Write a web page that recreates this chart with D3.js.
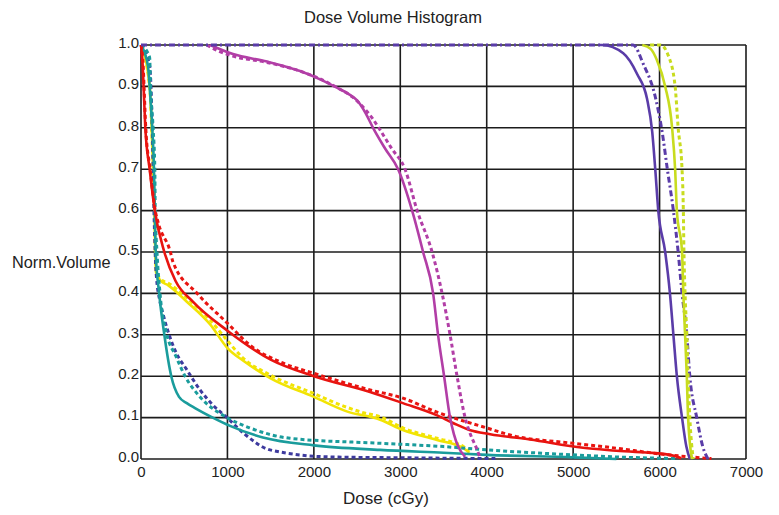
<!DOCTYPE html>
<html>
<head>
<meta charset="utf-8">
<script src="https://cdn.jsdelivr.net/npm/d3@7"></script>
<style>
  html, body { margin: 0; padding: 0; background: #fff; }
  svg { display: block; font-family: "Liberation Sans", Arial, sans-serif; }
</style>
</head>
<body>
<svg id="chart" width="779" height="515"></svg>
<script>
// ---- data ----
const title = "Dose Volume Histogram";
const xLabel = "Dose (cGy)";
const yLabel = "Norm.Volume";
const xTicks = [0, 1000, 2000, 3000, 4000, 5000, 6000, 7000];
const yTicks = [0.0, 0.1, 0.2, 0.3, 0.4, 0.5, 0.6, 0.7, 0.8, 0.9, 1.0];

// red structure
const redSolidDose = [0, 20, 30, 50, 100, 160, 270, 400, 600, 1000, 1500, 2000, 2650, 3030, 3420, 3610, 3800, 4040, 4500, 5115, 5500, 6120, 6250];
const redSolidVol  = [1.0, 0.95, 0.9, 0.8, 0.7, 0.6, 0.5, 0.43, 0.38, 0.31, 0.24, 0.2, 0.162, 0.135, 0.106, 0.087, 0.07, 0.06, 0.047, 0.027, 0.02, 0.01, 0.002];
const redDotDose = [0, 25, 35, 55, 105, 165, 200, 340, 370, 650, 1000, 1260, 1640, 2000, 2650, 3030, 3425, 4000, 4270, 5000, 5350, 6100, 6600];
const redDotVol  = [1.0, 0.95, 0.9, 0.8, 0.7, 0.6, 0.57, 0.5, 0.476, 0.4, 0.328, 0.275, 0.232, 0.207, 0.167, 0.147, 0.113, 0.075, 0.058, 0.038, 0.03, 0.01, 0.001];

// yellow structure
const yellowSolidDose = [0, 100, 140, 155, 165, 175, 230, 312, 530, 800, 1000, 1200, 1500, 2000, 2380, 2766, 3030, 3425, 3730, 3800];
const yellowSolidVol  = [1.0, 0.9, 0.7, 0.6, 0.5, 0.45, 0.43, 0.42, 0.38, 0.325, 0.268, 0.235, 0.195, 0.15, 0.115, 0.095, 0.07, 0.046, 0.026, 0.015];
const yellowDotDose = [0, 100, 140, 155, 165, 180, 240, 312, 532, 798, 995, 1180, 1493, 1990, 2380, 2570, 2766, 3030, 3425, 3730, 3800];
const yellowDotVol  = [1.0, 0.9, 0.7, 0.6, 0.5, 0.45, 0.432, 0.425, 0.389, 0.336, 0.287, 0.244, 0.203, 0.159, 0.125, 0.112, 0.102, 0.075, 0.05, 0.03, 0.02];

// teal structure
const tealSolidDose = [0, 80, 100, 130, 150, 160, 170, 210, 270, 350, 440, 530, 625, 830, 1030, 1410, 2000, 2766, 3500, 4000, 5000, 5500];
const tealSolidVol  = [1.0, 0.95, 0.9, 0.8, 0.7, 0.6, 0.5, 0.4, 0.3, 0.2, 0.15, 0.135, 0.123, 0.1, 0.08, 0.052, 0.033, 0.022, 0.015, 0.01, 0.004, 0.0];
const tealDotDose = [0, 100, 110, 140, 160, 165, 185, 220, 300, 400, 510, 683, 995, 1260, 1725, 2766, 3500, 4000, 5000, 5500, 6200];
const tealDotVol  = [1.0, 0.97, 0.9, 0.8, 0.7, 0.6, 0.5, 0.4, 0.3, 0.25, 0.2, 0.15, 0.1, 0.075, 0.05, 0.038, 0.03, 0.022, 0.01, 0.005, 0.001];

// navy structure (dotted)
const navyDotDose = [0, 100, 130, 150, 175, 220, 255, 393, 532, 683, 833, 995, 1200, 1493, 2187, 3000, 4100];
const navyDotVol  = [1.0, 0.95, 0.8, 0.6, 0.45, 0.38, 0.35, 0.263, 0.215, 0.167, 0.13, 0.1, 0.06, 0.022, 0.005, 0.003, 0.001];

// magenta structure
const magentaSolidDose = [800, 1064, 1458, 1840, 2072, 2303, 2400, 2500, 2600, 2685, 2824, 2975, 3137, 3264, 3380, 3437, 3507, 3576, 3620, 3670, 3750];
const magentaSolidVol  = [1.0, 0.978, 0.96, 0.937, 0.917, 0.893, 0.882, 0.866, 0.835, 0.8, 0.75, 0.7, 0.6, 0.5, 0.4, 0.3, 0.2, 0.1, 0.06, 0.03, 0.005];
const magentaDotDose = [760, 900, 1064, 1458, 1840, 2072, 2303, 2450, 2569, 2680, 2750, 2900, 3055, 3195, 3368, 3484, 3576, 3657, 3750, 3830, 3866, 3920];
const magentaDotVol  = [1.0, 0.985, 0.973, 0.958, 0.937, 0.918, 0.893, 0.874, 0.85, 0.822, 0.8, 0.75, 0.7, 0.6, 0.5, 0.4, 0.3, 0.2, 0.1, 0.05, 0.034, 0.005];

// purple structure
const purpleSolidDose = [5300, 5335, 5580, 5740, 5855, 5915, 5950, 5985, 6065, 6120, 6160, 6200, 6260, 6310, 6350];
const purpleSolidVol  = [1.0, 1.0, 0.98, 0.93, 0.87, 0.79, 0.7, 0.6, 0.5, 0.4, 0.3, 0.2, 0.1, 0.03, 0.0];
const purpleDotDose = [0, 5694, 5810, 5950, 6030, 6090, 6160, 6215, 6260, 6315, 6350, 6430, 6500, 6560];
const purpleDotVol  = [1.0, 1.0, 0.955, 0.875, 0.79, 0.7, 0.6, 0.5, 0.4, 0.3, 0.2, 0.1, 0.03, 0.0];

// yellow-green structure
const limeSolidDose = [5800, 5900, 5970, 6065, 6145, 6180, 6200, 6260, 6275, 6295, 6315, 6330, 6375];
const limeSolidVol  = [1.0, 0.99, 0.963, 0.9, 0.8, 0.7, 0.6, 0.5, 0.4, 0.3, 0.2, 0.1, 0.0];
const limeDotDose = [5890, 6010, 6100, 6180, 6215, 6260, 6275, 6282, 6295, 6315, 6330, 6350, 6390];
const limeDotVol  = [1.0, 1.0, 0.975, 0.9, 0.8, 0.7, 0.6, 0.5, 0.4, 0.3, 0.2, 0.1, 0.0];

const seriesList = [
  { dose: yellowSolidDose, vol: yellowSolidVol, color: "#f2e404", dash: null },
  { dose: yellowDotDose, vol: yellowDotVol, color: "#f2e404", dash: "4,3" },
  { dose: navyDotDose, vol: navyDotVol, color: "#3d3a9e", dash: "4,3" },
  { dose: tealDotDose, vol: tealDotVol, color: "#1a9c9c", dash: "4,3" },
  { dose: tealSolidDose, vol: tealSolidVol, color: "#1a9c9c", dash: null },
  { dose: redDotDose, vol: redDotVol, color: "#e81410", dash: "4,3" },
  { dose: redSolidDose, vol: redSolidVol, color: "#e81410", dash: null },
  { dose: magentaDotDose, vol: magentaDotVol, color: "#b23ea6", dash: "4,3" },
  { dose: magentaSolidDose, vol: magentaSolidVol, color: "#b23ea6", dash: null },
  { dose: purpleDotDose, vol: purpleDotVol, color: "#5a3ca8", dash: "6,3,2,3" },
  { dose: purpleSolidDose, vol: purpleSolidVol, color: "#5a3ca8", dash: null },
  { dose: limeDotDose, vol: limeDotVol, color: "#c8dc1e", dash: "4,3" },
  { dose: limeSolidDose, vol: limeSolidVol, color: "#c8dc1e", dash: null }
];

// ---- layout ----
const svg = d3.select("#chart");
const mLeft = 141, mRight = 746, mTop = 45, mBottom = 459;
const x = d3.scaleLinear().domain([0, 7000]).range([mLeft, mRight]);
const y = d3.scaleLinear().domain([0, 1]).range([mBottom, mTop]);

// grid
const grid = svg.append("g").attr("stroke", "#1c1c1c").attr("stroke-width", 1.6);
grid.selectAll("line.v").data(xTicks).join("line").attr("class", "v")
  .attr("x1", d => x(d)).attr("x2", d => x(d)).attr("y1", mTop).attr("y2", mBottom);
grid.selectAll("line.h").data(yTicks).join("line").attr("class", "h")
  .attr("x1", mLeft).attr("x2", mRight).attr("y1", d => y(d)).attr("y2", d => y(d));

// axes (labels only)
const xAxis = d3.axisBottom(x).tickValues(xTicks).tickSize(0).tickPadding(7).tickFormat(d3.format("d"));
const gx = svg.append("g").attr("transform", `translate(0,${mBottom})`).call(xAxis);
gx.select(".domain").remove();
gx.selectAll("text").attr("font-size", 15).attr("fill", "#222").attr("font-family", "Liberation Sans, Arial, sans-serif");

const yAxis = d3.axisLeft(y).tickValues(yTicks).tickSize(0).tickPadding(2).tickFormat(d3.format(".1f"));
const gy = svg.append("g").attr("transform", `translate(${mLeft},0)`).call(yAxis);
gy.select(".domain").remove();
gy.selectAll("text").attr("font-size", 15).attr("fill", "#222").attr("dy", "0.15em").attr("font-family", "Liberation Sans, Arial, sans-serif");

// lines
const line = d3.line().x(d => x(d[0])).y(d => y(d[1])).curve(d3.curveMonotoneX);
const lg = svg.append("g").attr("fill", "none");
seriesList.forEach(s => {
  const pts = s.dose.map((d, i) => [d, s.vol[i]]);
  lg.append("path")
    .attr("d", line(pts))
    .attr("stroke", s.color)
    .attr("stroke-width", s.dash ? 3 : 2.6)
    .attr("stroke-dasharray", s.dash)
    .attr("stroke-linejoin", "round");
});

// titles
svg.append("text").attr("x", 393).attr("y", 23).attr("text-anchor", "middle")
  .attr("font-size", 16.5).attr("fill", "#222").text(title);
svg.append("text").attr("x", 386).attr("y", 504).attr("text-anchor", "middle")
  .attr("font-size", 17).attr("fill", "#222").text(xLabel);
svg.append("text").attr("x", 12).attr("y", 268).attr("text-anchor", "start")
  .attr("font-size", 16.3).attr("fill", "#222").text(yLabel);
</script>
</body>
</html>
